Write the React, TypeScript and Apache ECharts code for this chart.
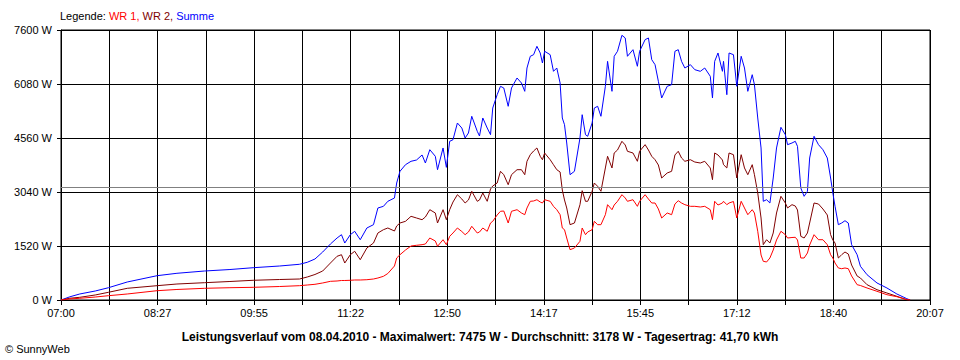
import React, { useEffect, useRef } from "react";
import * as echarts from "echarts";

const times = [
  "07:00","07:08","07:17","07:31","07:43","08:00","08:27","08:45","09:10","09:33",
  "09:54","10:18","10:36","10:43","10:50","10:57","11:04","11:10","11:14","11:17",
  "11:22","11:26","11:31","11:37","11:43","11:47","11:52","11:56","12:02","12:04",
  "12:07","12:12","12:17","12:22","12:27","12:30","12:34","12:39","12:41","12:46",
  "12:49","12:52","12:55","12:59","13:03","13:06","13:09","13:12","13:17","13:19",
  "13:22","13:26","13:29","13:31","13:35","13:38","13:41","13:45","13:48","13:53",
  "13:57","14:00","14:02","14:05","14:08","14:11","14:14","14:16","14:18","14:23",
  "14:26","14:29","14:32","14:34","14:36","14:38","14:41","14:45","14:50","14:52",
  "14:55","14:57","15:01","15:03","15:06","15:09","15:13","15:15","15:19","15:21",
  "15:24","15:28","15:31","15:33","15:38","15:42","15:44","15:49","15:52","15:55",
  "15:58","16:01","16:04","16:09","16:13","16:16","16:19","16:22","16:25","16:30",
  "16:34","16:39","16:43","16:48","16:50","16:52","16:55","16:59","17:00","17:03",
  "17:05","17:09","17:12","17:16","17:19","17:22","17:26","17:28","17:31","17:34",
  "17:36","17:39","17:42","17:45","17:48","17:52","17:56","17:58","18:02","18:05",
  "18:07","18:10","18:13","18:16","18:18","18:22","18:26","18:30","18:34","18:37",
  "18:39","18:41","18:44","18:47","18:50","18:53","18:56","19:01","19:04","19:10",
  "19:19","19:28","19:37","19:46","19:49"
];

const summe = [
  0,90,169,253,346,507,684,752,816,858,
  909,957,1005,1061,1154,1351,1576,1745,1838,1604,
  1838,1933,1697,2027,2120,2590,2637,2778,2871,3293,
  3623,3809,3904,3941,4082,3856,4231,4045,3668,4279,
  3734,4467,4512,4982,4841,4560,4701,5171,4748,4616,
  5123,4841,4653,5404,5779,6015,5967,5452,5967,6249,
  6108,5874,6530,6860,6905,7141,6953,6671,7001,6905,
  6437,6530,6108,5123,4934,4419,3527,3623,4560,5216,
  4653,4608,4982,5404,5452,5171,6015,6718,5874,6860,
  7001,7451,7375,6860,7046,6579,7001,7329,7375,6765,
  6624,6156,5686,6015,6061,7001,7046,6718,6530,6624,
  6483,6437,6530,6297,5686,6718,6953,6437,6718,5779,
  6953,6905,6015,6860,6530,5874,6342,6061,5123,4279,
  2778,2823,2730,3434,4279,4861,4653,4372,4419,4467,
  4326,3153,2919,3060,3997,4608,4373,4231,3997,3434,
  3012,2637,2120,2167,2232,2167,1557,1275,949,712,
  479,338,169,37,0
];

const wr2 = [
  0,50,76,141,217,329,403,450,487,521,
  555,577,591,647,718,816,1041,1230,1275,1041,
  1275,1371,1134,1464,1604,1886,1979,2027,1942,2083,
  2167,2215,2356,2308,2260,2336,2542,2449,2167,2542,
  2260,2542,2758,2964,2843,2730,2815,3060,2778,2815,
  3012,2778,3124,3209,3293,3623,3527,3245,3527,3668,
  3668,3527,3904,4090,4194,4279,4045,3949,4138,3949,
  3808,3668,3603,3096,2815,2590,2120,2167,2683,3077,
  2778,2778,3060,3293,3200,3060,3716,4045,3716,4138,
  4222,4467,4363,4186,4138,3904,4186,4373,4222,4045,
  3949,3800,3434,3575,3623,4082,4186,3997,3904,3949,
  3884,3856,3904,3716,3387,4138,4082,3941,3809,3716,
  4138,4090,3434,4090,3716,3527,3809,3527,3012,2308,
  1557,1697,1604,1886,2449,2919,2730,2590,2683,2646,
  2533,1793,1745,1886,2167,2730,2702,2562,2393,1838,
  1689,1604,1182,1275,1351,1295,985,676,619,431,
  290,197,104,8,0
];

const wr1 = [
  0,30,48,84,121,169,262,296,329,346,
  357,380,403,422,442,479,526,535,549,549,
  555,563,563,571,591,619,667,746,957,1182,
  1275,1407,1520,1540,1557,1576,1745,1661,1512,1697,
  1557,1793,1886,2027,1928,1838,1914,2075,1886,1914,
  2027,1934,2167,2215,2393,2497,2505,2167,2497,2542,
  2449,2401,2590,2778,2787,2823,2758,2730,2823,2778,
  2637,2542,2401,2027,1979,1745,1416,1464,1652,2027,
  1838,1914,1979,2215,2120,2120,2401,2683,2542,2674,
  2778,2964,2871,2778,2823,2637,2778,2964,2843,2730,
  2730,2562,2308,2449,2401,2702,2795,2730,2683,2637,
  2637,2618,2637,2542,2260,2778,2674,2730,2778,2683,
  2730,2773,2308,2778,2590,2401,2542,2449,1934,1267,
  1089,1070,1182,1407,1689,1934,1838,1745,1759,1765,
  1689,1182,1182,1323,1548,1838,1697,1697,1557,1275,
  1182,1041,901,881,901,881,676,431,408,338,
  245,149,93,8,0
];

const tickLabels = ["07:00","08:27","09:55","11:22","12:50","14:17","15:45","17:12","18:40","20:07"];
const yMax = 7600;
const yStep = 1520;
const durchschnitt = 3178;
const startTime = "07:00";
const endTime = "20:07";
const titleText = "Leistungsverlauf vom 08.04.2010 - Maximalwert: 7475 W - Durchschnitt: 3178 W - Tagesertrag: 41,70 kWh";

const toMin = (t: string) => {
  const [h, m] = t.split(":").map(Number);
  return h * 60 + m;
};
const t0 = toMin(startTime);
const span = toMin(endTime) - t0;
const xInterval = span / 18;

const FONT = "'Liberation Sans', Arial, sans-serif";

export default function App() {
  const ref = useRef<HTMLDivElement>(null);
  useEffect(() => {
    if (!ref.current) return;
    const chart = echarts.init(ref.current, null, { renderer: "svg" });
    const mk = (vals: number[]) => vals.map((v, i) => [toMin(times[i]) - t0, v]);
    chart.setOption({
      animation: false,
      backgroundColor: "#ffffff",
      textStyle: { fontFamily: FONT },
      grid: { left: 61, right: 30, top: 30, bottom: 60, show: true, borderColor: "#000", borderWidth: 1 },
      xAxis: {
        type: "value",
        min: 0,
        max: span,
        interval: xInterval,
        axisLine: { show: true, lineStyle: { color: "#000", width: 1 } },
        axisTick: { show: true, length: 5, lineStyle: { color: "#000" } },
        splitLine: { show: true, lineStyle: { color: "#000", width: 1 } },
        axisLabel: {
          color: "#000",
          fontSize: 11,
          fontFamily: FONT,
          margin: 7,
          showMaxLabel: true,
          showMinLabel: true,
          formatter: (v: number) => {
            const k = Math.round(v / xInterval);
            return k % 2 === 0 ? tickLabels[k / 2] ?? "" : "";
          },
        },
      },
      yAxis: {
        type: "value",
        min: 0,
        max: yMax,
        interval: yStep,
        axisLine: { show: true, lineStyle: { color: "#000", width: 1 } },
        axisTick: { show: true, length: 4, lineStyle: { color: "#000" } },
        splitLine: { show: true, lineStyle: { color: "#000", width: 1 } },
        axisLabel: { color: "#000", fontSize: 11, fontFamily: FONT, margin: 9, formatter: (v: number) => `${v} W` },
      },
      series: [
        {
          name: "Summe",
          type: "line",
          data: mk(summe),
          showSymbol: false,
          lineStyle: { color: "#0000ff", width: 1 },
          itemStyle: { color: "#0000ff" },
          markLine: {
            silent: true,
            symbol: "none",
            label: { show: false },
            lineStyle: { color: "#808080", type: "solid", width: 1 },
            data: [{ yAxis: durchschnitt }],
          },
        },
        {
          name: "WR 2",
          type: "line",
          data: mk(wr2),
          showSymbol: false,
          lineStyle: { color: "#800000", width: 1 },
          itemStyle: { color: "#800000" },
        },
        {
          name: "WR 1",
          type: "line",
          data: mk(wr1),
          showSymbol: false,
          lineStyle: { color: "#ff0000", width: 1 },
          itemStyle: { color: "#ff0000" },
        },
      ],
      graphic: [
        {
          type: "text",
          left: 60,
          top: 10,
          style: {
            text: "{k|Legende: }{a|WR 1, }{b|WR 2, }{c|Summe}",
            font: `11px ${FONT}`,
            rich: {
              k: { fill: "#000", fontSize: 11, fontFamily: FONT },
              a: { fill: "#ff0000", fontSize: 11, fontFamily: FONT },
              b: { fill: "#800000", fontSize: 11, fontFamily: FONT },
              c: { fill: "#0000ff", fontSize: 11, fontFamily: FONT },
            },
          },
        },
        {
          type: "text",
          x: 480,
          y: 337,
          style: {
            text: titleText,
            font: `bold 12px ${FONT}`,
            fill: "#000",
            align: "center",
            verticalAlign: "middle",
          },
        },
        {
          type: "text",
          x: 5,
          y: 349,
          style: {
            text: "© SunnyWeb",
            font: `11px ${FONT}`,
            fill: "#000",
            align: "left",
            verticalAlign: "middle",
          },
        },
      ],
    });
    return () => chart.dispose();
  }, []);
  return <div ref={ref} style={{ position: "absolute", left: 0, top: 0, width: 960, height: 360 }} />;
}
